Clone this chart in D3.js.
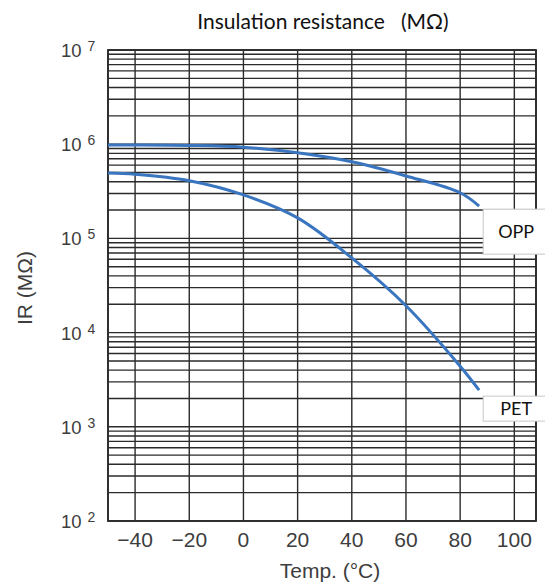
<!DOCTYPE html>
<html>
<head>
<meta charset="utf-8">
<script src="https://cdn.jsdelivr.net/npm/d3@7"></script>
<style>
  body { margin: 0; background: #fff; }
  svg { display: block; }
  .grid line { stroke: #2b2b2b; stroke-width: 1.4; }
  .tick-label { font-family: "Liberation Sans", Arial, sans-serif; fill: #3d3d3d; }
</style>
</head>
<body>
<div id="chart"></div>
<script>
// data
const temps = [-50, -40, -20, 0, 20, 40, 60, 80, 87];
const oppIR = [9.8e5, 9.8e5, 9.7e5, 9.3e5, 8.1e5, 6.5e5, 4.6e5, 3.05e5, 2.2e5];
const petIR = [4.95e5, 4.8e5, 4.1e5, 2.9e5, 1.65e5, 6.2e4, 1.93e4, 4.4e3, 2.45e3];
const xTicks = [-40, -20, 0, 20, 40, 60, 80, 100];
const yExponents = [2, 3, 4, 5, 6, 7];

const width = 545;
const height = 587;
const margin = { top: 50, right: 9, bottom: 66, left: 108 };

const svg = d3.select("#chart")
  .append("svg")
  .attr("width", width)
  .attr("height", height);

// scales
const x = d3.scaleLinear()
  .domain([-50, 108])
  .range([margin.left, width - margin.right]);

const y = d3.scaleLog()
  .domain([1e2, 1e7])
  .range([height - margin.bottom, margin.top]);

// grid: minor lines 2..9 in every decade
const yGrid = [];
for (let e = 2; e < 7; e++) {
  for (let m = 1; m <= 9; m++) yGrid.push(m * Math.pow(10, e));
}
yGrid.push(1e7);

const grid = svg.append("g").attr("class", "grid");

grid.selectAll(".hline")
  .data(yGrid)
  .join("line")
  .attr("class", "hline")
  .attr("x1", x.range()[0])
  .attr("x2", x.range()[1])
  .attr("y1", d => y(d))
  .attr("y2", d => y(d));

grid.selectAll(".vline")
  .data(xTicks.concat(x.domain()))
  .join("line")
  .attr("class", "vline")
  .attr("x1", d => x(d))
  .attr("x2", d => x(d))
  .attr("y1", y.range()[0])
  .attr("y2", y.range()[1]);

svg.append("rect")
  .attr("x", x.range()[0])
  .attr("y", y.range()[1])
  .attr("width", x.range()[1] - x.range()[0])
  .attr("height", y.range()[0] - y.range()[1])
  .attr("fill", "none")
  .attr("stroke", "#2b2b2b")
  .attr("stroke-width", 1.8);

// curves
const line = d3.line()
  .x((d, i) => x(temps[i]))
  .y(d => y(d))
  .curve(d3.curveCatmullRom.alpha(0.5));

[oppIR, petIR].forEach(series => {
  svg.append("path")
    .datum(series)
    .attr("d", line)
    .attr("fill", "none")
    .attr("stroke", "#3a75c0")
    .attr("stroke-width", 3);
});

// series labels in boxes
const labels = [
  { name: "OPP", end: oppIR[oppIR.length - 1], dy: 3, h: 45 },
  { name: "PET", end: petIR[petIR.length - 1], dy: 6, h: 25 }
];
labels.forEach(l => {
  const bx = x(88.5);
  const by = y(l.end) + l.dy;
  svg.append("rect")
    .attr("x", bx)
    .attr("y", by)
    .attr("width", 70)
    .attr("height", l.h)
    .attr("fill", "#fff")
    .attr("stroke", "#c8c8c8")
    .attr("stroke-width", 1);
  svg.append("text")
    .attr("x", bx + 33)
    .attr("y", by + l.h / 2)
    .attr("dy", "0.36em")
    .attr("text-anchor", "middle")
    .attr("font-family", "Lato, 'Open Sans', sans-serif")
    .attr("font-size", 18)
    .attr("fill", "#111")
    .text(l.name);
});

// y tick labels: 10 with exponent
const yLab = svg.append("g");
yExponents.forEach(e => {
  const t = yLab.append("text")
    .attr("class", "tick-label")
    .attr("x", 61)
    .attr("y", y(Math.pow(10, e)) + 7)
    .attr("font-size", 18.5);
  t.append("tspan").text("10");
  t.append("tspan")
    .attr("dx", 6)
    .attr("dy", -6)
    .attr("font-size", 14)
    .text(e);
});

// x tick labels
svg.append("g")
  .selectAll("text")
  .data(xTicks)
  .join("text")
  .attr("class", "tick-label")
  .attr("x", d => x(d))
  .attr("y", 547)
  .attr("text-anchor", "middle")
  .attr("font-size", 21)
  .text(d => d < 0 ? "\u2212" + Math.abs(d) : d);

// axis titles
svg.append("text")
  .attr("class", "tick-label")
  .attr("x", 330)
  .attr("y", 578)
  .attr("text-anchor", "middle")
  .attr("font-size", 21)
  .text("Temp. (\u00B0C)");

svg.append("text")
  .attr("class", "tick-label")
  .attr("transform", "translate(32,288) rotate(-90)")
  .attr("text-anchor", "middle")
  .attr("font-size", 21)
  .text("IR (M\u03A9)");

svg.append("text")
  .attr("x", 323)
  .attr("y", 29)
  .attr("text-anchor", "middle")
  .attr("font-family", "Lato, 'Open Sans', sans-serif")
  .attr("font-size", 21)
  .attr("fill", "#111")
  .attr("xml:space", "preserve")
  .text("Insulation resistance   (M\u03A9)");
</script>
</body>
</html>
